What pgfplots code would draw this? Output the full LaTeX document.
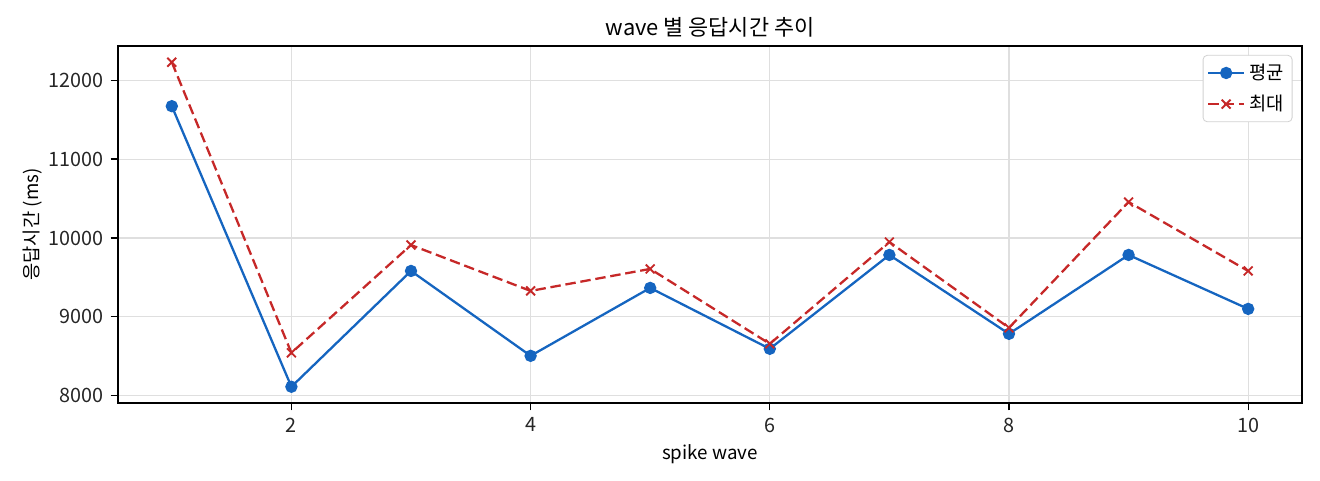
\documentclass[border=0pt]{standalone}
\usepackage{fontspec}
\setmainfont{Noto Sans CJK KR}
\usepackage{pgfplots}
\pgfplotsset{compat=1.18}

\definecolor{avgblue}{HTML}{1565C0}
\definecolor{maxred}{HTML}{C62828}

\begin{document}
\begin{tikzpicture}
% canvas 1320 x 480 px at 0.48pt per px; axis box at px (118..1302, 46..403)
\path[use as bounding box] (-56.64pt,-36.96pt) rectangle (576.96pt,193.44pt);
\begin{axis}[
    at={(0pt,0pt)}, anchor=south west,
    scale only axis,
    width=568.32pt, height=171.36pt,
    xmin=0.55, xmax=10.45,
    ymin=7908, ymax=12434,
    xtick={2,4,6,8,10},
    ytick={8000,9000,10000,11000,12000},
    scaled y ticks=false,
    /pgf/number format/.cd, assume math mode=true, 1000 sep={},
    /pgfplots/.cd,
    tick label style={font=\fontsize{9.5}{11}\selectfont, text=black!85},
    tick align=outside, tick pos=left,
    major tick length=3.5pt,
    every tick/.style={black, line width=0.6pt},
    axis line style={line width=0.6pt},
    grid=major,
    grid style={gray!25, line width=0.5pt},
    title={wave 별 응답시간 추이},
    title style={font=\fontsize{10.5}{12}\selectfont, yshift=-5.5pt},
    xlabel={spike wave},
    ylabel={응답시간 (ms)},
    label style={font=\fontsize{9}{11}\selectfont},
    xlabel style={yshift=1pt},
    ylabel style={yshift=-4pt},
    legend pos=north east,
    legend style={font=\fontsize{9}{11}\selectfont, draw=gray!35, rounded corners=2pt,
                  inner sep=2pt, row sep=2pt, at={(0.992,0.975)}},
    legend cell align=left,
]
\addplot[color=avgblue, line width=1.1pt, mark=*, mark size=2.4pt]
coordinates {
(1,11671)(2,8114)(3,9582)(4,8506)(5,9367)(6,8595)(7,9785)(8,8785)(9,9785)(10,9101)
};
\addplot[color=maxred, line width=1.1pt, dash pattern=on 5pt off 2.3pt, mark=x, mark size=3pt,
         mark options={solid, line width=0.9pt}]
coordinates {
(1,12228)(2,8544)(3,9911)(4,9329)(5,9608)(6,8658)(7,9949)(8,8861)(9,10456)(10,9582)
};
\legend{평균, 최대}
\end{axis}
\end{tikzpicture}
\end{document}
